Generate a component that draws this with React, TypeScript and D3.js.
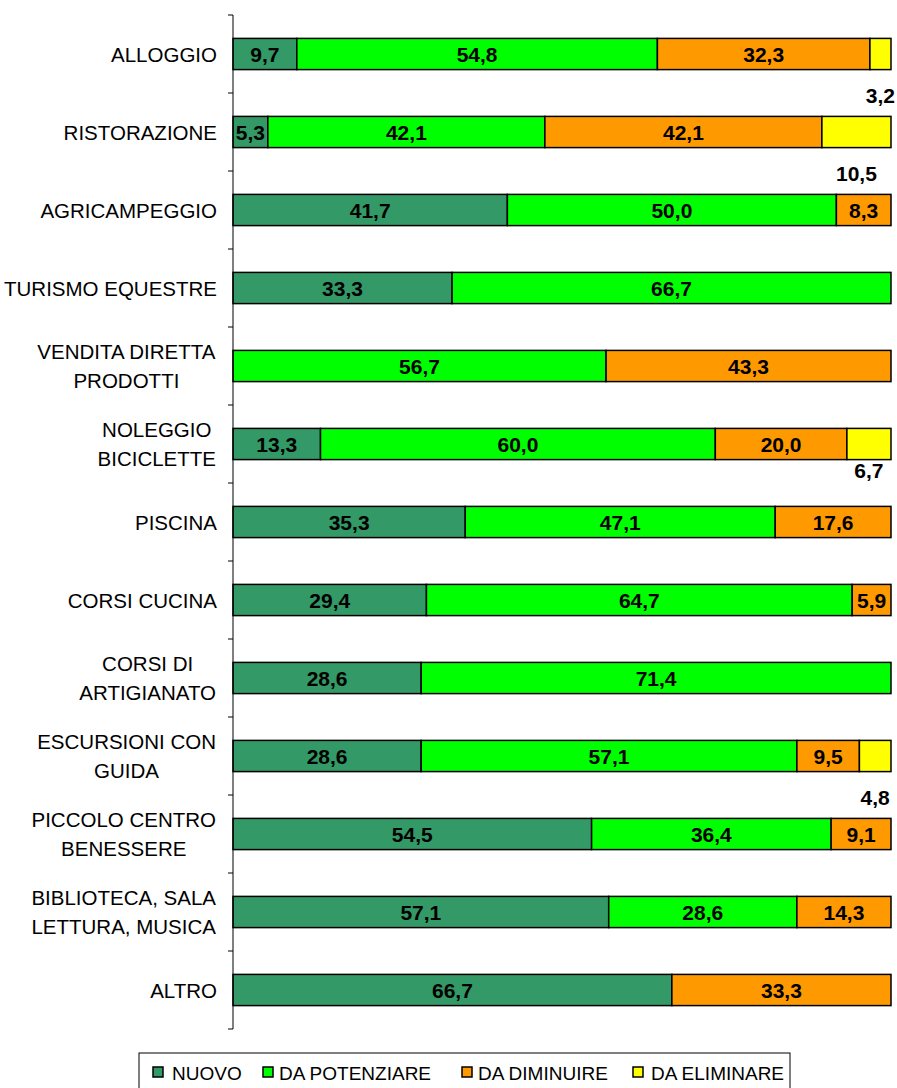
import React from "react";
import * as d3 from "d3";

const categories: string[][] = [
  ["ALLOGGIO"],
  ["RISTORAZIONE"],
  ["AGRICAMPEGGIO"],
  ["TURISMO EQUESTRE"],
  ["VENDITA DIRETTA", "PRODOTTI"],
  ["NOLEGGIO", "BICICLETTE"],
  ["PISCINA"],
  ["CORSI CUCINA"],
  ["CORSI DI", "ARTIGIANATO"],
  ["ESCURSIONI CON", "GUIDA"],
  ["PICCOLO CENTRO", "BENESSERE"],
  ["BIBLIOTECA, SALA", "LETTURA, MUSICA"],
  ["ALTRO"],
];

const nuovo = [9.7, 5.3, 41.7, 33.3, 0, 13.3, 35.3, 29.4, 28.6, 28.6, 54.5, 57.1, 66.7];
const daPotenziare = [54.8, 42.1, 50.0, 66.7, 56.7, 60.0, 47.1, 64.7, 71.4, 57.1, 36.4, 28.6, 0];
const daDiminuire = [32.3, 42.1, 8.3, 0, 43.3, 20.0, 17.6, 5.9, 0, 9.5, 9.1, 14.3, 33.3];
const daEliminare = [3.2, 10.5, 0, 0, 0, 6.7, 0, 0, 0, 4.8, 0, 0, 0];

const seriesNames = ["NUOVO", "DA POTENZIARE", "DA DIMINUIRE", "DA ELIMINARE"];
const seriesColors = ["#339966", "#00FF00", "#FF9900", "#FFFF00"];

const FONT = "'Liberation Sans', Arial, sans-serif";

function measure(text: string, size: number): number {
  if (typeof document === "undefined") return text.length * size * 0.6;
  const c = document.createElement("canvas");
  const ctx = c.getContext("2d")!;
  ctx.font = `${size}px ${FONT}`;
  return ctx.measureText(text).width;
}

export default function App() {
  const W = 897;
  const H = 1088;
  const axisX = 233;
  const top = 15;
  const bottom = 1029;
  const labelSize = 20.5;

  const keys = categories.map((_, i) => String(i));
  const y = d3.scaleBand<string>().domain(keys).range([top, bottom]).paddingInner(0.6).paddingOuter(0.3);
  const x = d3.scaleLinear().domain([0, 100]).range([axisX, 891]);
  const step = y.step();

  const table = categories.map((_, i) => ({
    key: String(i),
    s0: nuovo[i],
    s1: daPotenziare[i],
    s2: daDiminuire[i],
    s3: daEliminare[i],
  }));
  const stack = d3.stack<any>().keys(["s0", "s1", "s2", "s3"]);
  const stacked = stack(table);

  const ticks = d3.range(categories.length + 1).map((i) => top + i * step);

  const legendItems = [
    { sq: 153, tx: 172 },
    { sq: 263, tx: 279 },
    { sq: 462, tx: 478 },
    { sq: 633, tx: 651 },
  ];

  return (
    <svg
      width={W}
      height={H}
      style={{ display: "block", position: "absolute", left: 0, top: 0 }}
      fontFamily={FONT}
    >
      <rect width={W} height={H} fill="#fff" />
      {/* category labels */}
      {categories.map((lines, i) => {
        const cy = (y(String(i)) as number) + y.bandwidth() / 2;
        if (lines.length === 1) {
          return (
            <text key={i} x={217} y={cy} textAnchor="end" dominantBaseline="central" fontSize={labelSize} fill="#000">
              {lines[0]}
            </text>
          );
        }
        const maxW = Math.max(...lines.map((l) => measure(l, labelSize)));
        const cx = 216 - maxW / 2;
        return (
          <text key={i} x={cx} textAnchor="middle" fontSize={labelSize} fill="#000">
            {lines.map((l, j) => (
              <tspan key={j} x={cx} y={cy + (j - (lines.length - 1) / 2) * 29} dominantBaseline="central">
                {l}
              </tspan>
            ))}
          </text>
        );
      })}
      {/* bars */}
      {stacked.map((layer, si) => (
        <g key={si}>
          {layer.map((d, i) => {
            const v = d[1] - d[0];
            if (v <= 0) return null;
            const by = y(String(i)) as number;
            return (
              <rect
                key={i}
                x={x(d[0])}
                y={by}
                width={x(d[1]) - x(d[0])}
                height={y.bandwidth()}
                fill={seriesColors[si]}
                stroke="#000"
                strokeWidth={1.5}
              />
            );
          })}
        </g>
      ))}
      {/* value labels */}
      {stacked.map((layer, si) => (
        <g key={"l" + si}>
          {layer.map((d, i) => {
            const v = d[1] - d[0];
            if (v <= 0) return null;
            const cx = (x(d[0]) + x(d[1])) / 2;
            const cy = (y(String(i)) as number) + y.bandwidth() / 2;
            const outside = si === 3;
            const dy = outside ? (i === 5 ? 26 : 41) : 0;
            return (
              <text
                key={i}
                x={cx}
                y={cy + dy}
                textAnchor="middle"
                dominantBaseline="central"
                fontSize={21}
                fontWeight="bold"
                fill="#000"
              >
                {d3.format(".1f")(v).replace(".", ",")}
              </text>
            );
          })}
        </g>
      ))}
      {/* axis */}
      <line x1={axisX} x2={axisX} y1={top} y2={bottom} stroke="#000" strokeWidth={1} />
      {ticks.map((t, i) => (
        <line key={i} x1={axisX - 5} x2={axisX} y1={t} y2={t} stroke="#000" strokeWidth={1} />
      ))}
      {/* legend */}
      <rect x={139} y={1053} width={651} height={60} fill="#fff" stroke="#000" strokeWidth={1} />
      {seriesNames.map((n, i) => (
        <g key={n}>
          <rect x={legendItems[i].sq} y={1067} width={10} height={10} fill={seriesColors[i]} stroke="#000" strokeWidth={1.5} />
          <text x={legendItems[i].tx} y={1073} dominantBaseline="central" fontSize={19} fill="#000">
            {n}
          </text>
        </g>
      ))}
    </svg>
  );
}
